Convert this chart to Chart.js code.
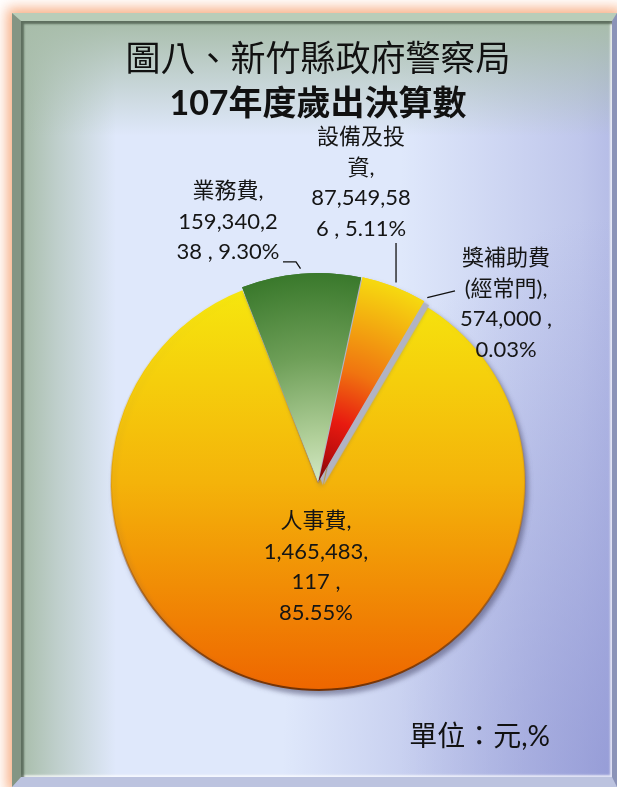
<!DOCTYPE html>
<html>
<head>
<meta charset="utf-8">
<script src="https://cdn.jsdelivr.net/npm/chart.js@4/dist/chart.umd.min.js"></script>
<style>
html,body{margin:0;padding:0;width:617px;height:787px;overflow:hidden;background:#fff;}
#frame{position:absolute;left:12px;top:13px;width:605px;height:774px;box-sizing:border-box;
  border-style:solid;border-width:8px 5px 10px 9px;
  border-color:#b9cdb9 #8b93b8 #bcc3df #849584;
  box-shadow:0 0 12px 5px rgba(246,150,95,0.75);}
#inner{position:absolute;left:0;top:0;right:0;bottom:0;
  background:
    linear-gradient(to bottom, rgba(168,189,170,1) 0px, rgba(168,189,170,0.6) 45px, rgba(168,189,170,0) 115px),
    linear-gradient(to right, rgba(168,189,170,1) 0px, rgba(168,189,170,0.6) 35px, rgba(168,189,170,0) 95px),
    radial-gradient(ellipse 330px 560px at 100% 100%, rgba(140,146,210,0.75), rgba(140,146,210,0) 100%),
    linear-gradient(to right, rgba(160,166,220,0) 380px, rgba(160,166,220,0.5) 560px, rgba(160,166,220,0.7) 600px),
    #dfe8fb;
  box-shadow: inset 3px 3px 2px rgba(70,85,70,0.75), inset -2px -2px 2px rgba(255,255,255,0.7);}
#c{position:absolute;left:0;top:0;}
</style>
</head>
<body>
<div id="frame"><div id="inner"></div></div>
<canvas id="c" width="617" height="787"></canvas>
<script>
// ---- data ----
const categories = ['人事費', '業務費', '設備及投資', '獎補助費(經常門)'];
const amounts = [1465483117, 159340238, 87549586, 574000];
const percents = [85.55, 9.30, 5.11, 0.03];
const titleLine1 = '圖八、新竹縣政府警察局';
const titleLine2 = '107年度歲出決算數';
const unitNote = '單位：元,%';

// ---- layout / style (not data) ----
const PIE_R = 207;
const LINE_H = 30.5;
const labelCuts = [[4, 15, 20], [4, 14], [4, 6, 16], [4, 10, 21]];
const labelLayout = [
  {dx: -2, dy: 84},
  {dx: -90, dy: -261, leader: [[-22, -221], [-35, -221]]},
  {dx: 43, dy: -300, leader: [[null, -240]]},
  {dx: 188, dy: -179, leader: [[137, -192]]}
];

const fmt = n => String(n).replace(/\B(?=(\d{3})+(?!\d))/g, ',');
function labelLines(i) {
  const s = `${categories[i]}, ${fmt(amounts[i])} , ${percents[i].toFixed(2)}%`;
  const cuts = [0, ...labelCuts[i], s.length];
  const out = [];
  for (let k = 0; k < cuts.length - 1; k++) out.push(s.slice(cuts[k], cuts[k + 1]).trim());
  return out;
}

function pieCenter(chart) {
  const a = chart.chartArea;
  return {cx: (a.left + a.right) / 2, cy: (a.top + a.bottom) / 2};
}

function fillFor(context) {
  const chart = context.chart;
  if (!chart.chartArea) return '#f4b40a';
  const {cx, cy} = pieCenter(chart);
  const c = chart.ctx;
  const i = context.dataIndex;
  if (i === 0) {
    const g = c.createLinearGradient(0, cy - PIE_R, 0, cy + PIE_R);
    g.addColorStop(0, '#f6ea0e');
    g.addColorStop(0.5, '#f4b30a');
    g.addColorStop(1, '#ee6600');
    return g;
  }
  if (i === 1) {
    const g = c.createRadialGradient(cx, cy, 0, cx, cy, PIE_R);
    g.addColorStop(0, '#d2e7c3');
    g.addColorStop(0.2, '#b3d19c');
    g.addColorStop(0.6, '#6e9f58');
    g.addColorStop(1, '#3a792c');
    return g;
  }
  if (i === 2) {
    const g = c.createRadialGradient(cx, cy, 0, cx, cy, PIE_R);
    g.addColorStop(0, '#6e0606');
    g.addColorStop(0.12, '#b80c0c');
    g.addColorStop(0.3, '#e81a10');
    g.addColorStop(0.55, '#f07410');
    g.addColorStop(0.8, '#f3ac10');
    g.addColorStop(1, '#f6d810');
    return g;
  }
  return '#f3c000';
}
function borderFor(context) {
  const chart = context.chart;
  if (!chart.chartArea) return 'rgba(0,0,0,0)';
  const {cy} = pieCenter(chart);
  if (context.dataIndex === 0) {
    const g = chart.ctx.createLinearGradient(0, cy - PIE_R, 0, cy + PIE_R);
    g.addColorStop(0, 'rgba(220,180,0,0)');
    g.addColorStop(0.55, 'rgba(170,90,0,0.25)');
    g.addColorStop(1, 'rgba(110,45,0,0.95)');
    return g;
  }
  return 'rgba(0,0,0,0)';
}

const shadowPlugin = {
  id: 'pieShadow',
  beforeDatasetsDraw(chart) {
    const c = chart.ctx;
    c.save();
    c.shadowColor = 'rgba(70,70,105,0.55)';
    c.shadowBlur = 5;
    c.shadowOffsetX = 3;
    c.shadowOffsetY = 4;
  },
  afterDatasetsDraw(chart) { chart.ctx.restore(); }
};

// grey extruded side of the exploded slices: redraw them with a hard grey shadow
const extrudePlugin = {
  id: 'extrude',
  afterDatasetsDraw(chart) {
    const ctx = chart.ctx;
    const arcs = chart.getDatasetMeta(0).data;
    ctx.save();
    ctx.shadowColor = '#b1b3c3';
    ctx.shadowBlur = 1;
    ctx.shadowOffsetX = 5;
    ctx.shadowOffsetY = 4;
    for (let i = 1; i < arcs.length; i++) {
      if (arcs[i].options.offset) arcs[i].draw(ctx, chart.chartArea);
    }
    ctx.restore();
  }
};

const labelPlugin = {
  id: 'sliceLabels',
  afterDraw(chart) {
    const ctx = chart.ctx;
    const arcs = chart.getDatasetMeta(0).data;
    ctx.save();
    ctx.strokeStyle = '#111';
    ctx.lineWidth = 1.3;
    ctx.fillStyle = '#151515';
    ctx.font = '22px Lato, "Noto Sans CJK TC", sans-serif';
    ctx.textAlign = 'center';
    ctx.textBaseline = 'middle';
    arcs.forEach((arc, i) => {
      const p = arc.getProps(['x', 'y', 'startAngle', 'endAngle', 'outerRadius'], true);
      const mid = (p.startAngle + p.endAngle) / 2;
      const off = (arc.options && arc.options.offset) || 0;
      const L = labelLayout[i];
      const lines = labelLines(i);
      const bx = p.x + L.dx, by = p.y + L.dy;
      lines.forEach((t, k) => ctx.fillText(t, bx, by + (k - (lines.length - 1) / 2) * LINE_H));
      if (L.leader) {
        const r = p.outerRadius + off;
        const sx = p.x + Math.cos(mid) * r, sy = p.y + Math.sin(mid) * r;
        ctx.beginPath();
        ctx.moveTo(sx, sy);
        L.leader.forEach(([px, py]) => ctx.lineTo(px === null ? sx : p.x + px, p.y + py));
        ctx.stroke();
      }
    });
    ctx.font = '28px Lato, "Noto Sans CJK TC", sans-serif';
    ctx.textAlign = 'right';
    ctx.fillStyle = '#111';
    ctx.fillText(unitNote, 550, 737);
    ctx.restore();
  }
};

new Chart(document.getElementById('c'), {
  type: 'pie',
  data: {
    labels: categories,
    datasets: [{
      data: amounts,
      backgroundColor: fillFor,
      borderColor: borderFor,
      borderWidth: [2, 0, 0, 0],
      offset: [0, 8, 8, 8],
      hoverOffset: 0,
      radius: PIE_R,
      clip: false
    }]
  },
  options: {
    responsive: false,
    animation: false,
    events: [],
    rotation: 30.6,
    layout: {padding: {left: 19, right: 0, top: 0, bottom: 0}},
    plugins: {
      legend: {display: false},
      tooltip: {enabled: false},
      title: {
        display: true,
        text: titleLine1,
        color: '#111',
        font: {family: '"Noto Sans CJK TC", sans-serif', size: 35, weight: 'normal', lineHeight: 1.2},
        padding: {top: 37, bottom: 0}
      },
      subtitle: {
        display: true,
        text: titleLine2,
        color: '#111',
        font: {family: 'Lato, "Noto Sans CJK TC", sans-serif', size: 34, weight: 'bold', lineHeight: 1.2},
        padding: {top: 4.4, bottom: 54.6}
      }
    }
  },
  plugins: [shadowPlugin, extrudePlugin, labelPlugin]
});
</script>
</body>
</html>
